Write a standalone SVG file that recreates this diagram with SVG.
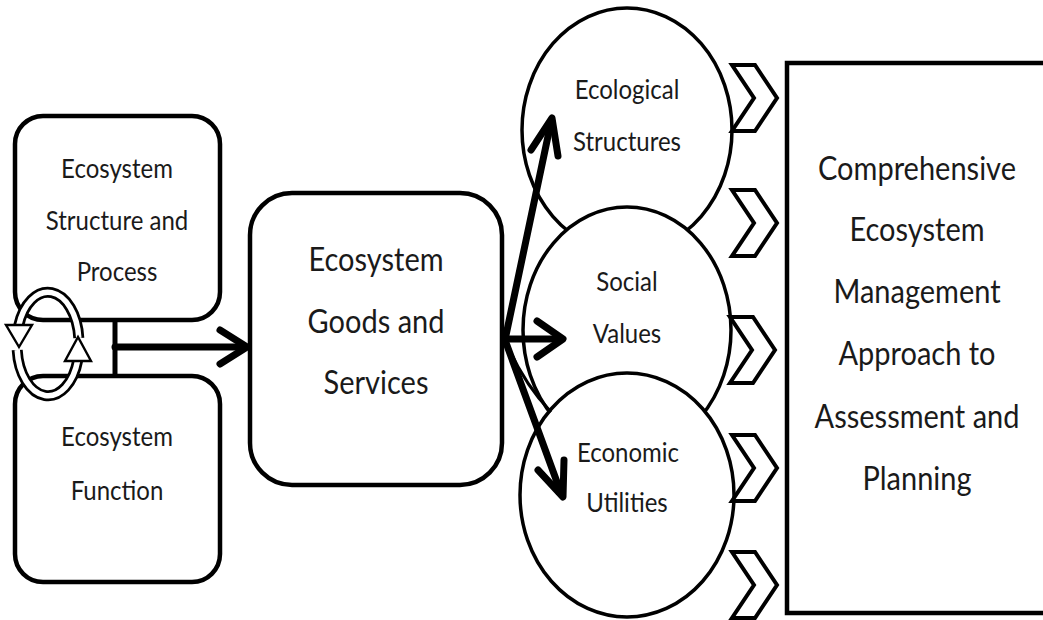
<svg xmlns="http://www.w3.org/2000/svg" width="1043" height="620" viewBox="0 0 1043 620">
  <defs>
    <style>
      .box { fill: #fff; stroke: #000; stroke-width: 4.5; }
      .oval { fill: #fff; stroke: #000; stroke-width: 3.5; }
      .chev { fill: #fff; stroke: #000; stroke-width: 4; stroke-linejoin: miter; }
      .lbl { font-family: Lato, "Open Sans", "Liberation Sans", sans-serif; fill: #1a1a1a; text-anchor: middle; }
      .s24 { font-size: 24px; }
      .s23 { font-size: 24px; }
      .s30 { font-size: 29px; }
      .shaft { fill: none; stroke: #000; stroke-width: 7; stroke-linecap: round; stroke-linejoin: round; }
      .band-o { fill: none; stroke: #000; stroke-width: 11; }
      .band-i { fill: none; stroke: #fff; stroke-width: 5.5; }
      .cyc-head { fill: #fff; stroke: #000; stroke-width: 2.4; stroke-linejoin: miter; }
    </style>
    <path id="chevron" class="chev" d="M732,-33 H755 L777,0 L755,33 H732 L754,0 Z"/>
  </defs>

  <rect width="1043" height="620" fill="#fff"/>

  <!-- Outcome box (runs off the right edge); labels are drawn slightly tall -->
  <g id="management">
    <rect class="box" x="787" y="63" width="290" height="550"/>
    <text class="lbl s30" transform="translate(917,180) scale(1,1.15)">Comprehensive</text>
    <text class="lbl s30" transform="translate(917,241) scale(1,1.15)">Ecosystem</text>
    <text class="lbl s30" transform="translate(917,303) scale(1,1.15)">Management</text>
    <text class="lbl s30" transform="translate(917,365) scale(1,1.15)">Approach to</text>
    <text class="lbl s30" transform="translate(917,428) scale(1,1.15)">Assessment and</text>
    <text class="lbl s30" transform="translate(917,490) scale(1,1.15)">Planning</text>
  </g>

  <!-- Value circles, stacked top to bottom -->
  <g id="ecological">
    <ellipse class="oval" cx="627" cy="130" rx="105" ry="122"/>
    <text class="lbl s23" transform="translate(627,99) scale(1,1.15)">Ecological</text>
    <text class="lbl s23" transform="translate(627,151) scale(1,1.15)">Structures</text>
  </g>
  <g id="social">
    <ellipse class="oval" cx="627" cy="330" rx="104" ry="123"/>
    <text class="lbl s23" transform="translate(627,291) scale(1,1.15)">Social</text>
    <text class="lbl s23" transform="translate(627,343) scale(1,1.15)">Values</text>
  </g>
  <g id="economic">
    <ellipse class="oval" cx="627" cy="495" rx="107" ry="122"/>
    <text class="lbl s23" transform="translate(628,462) scale(1,1.15)">Economic</text>
    <text class="lbl s23" transform="translate(627,512) scale(1,1.15)">Utilities</text>
  </g>

  <!-- Source boxes -->
  <g id="structure">
    <rect class="box" x="15" y="116" width="205" height="204" rx="28"/>
    <text class="lbl s24" transform="translate(117,178) scale(1,1.15)">Ecosystem</text>
    <text class="lbl s24" transform="translate(117,230) scale(1,1.15)">Structure and</text>
    <text class="lbl s24" transform="translate(117,281) scale(1,1.15)">Process</text>
  </g>
  <g id="function">
    <rect class="box" x="15" y="376" width="205" height="206" rx="28"/>
    <text class="lbl s24" transform="translate(117,446) scale(1,1.15)">Ecosystem</text>
    <text class="lbl s24" transform="translate(117,500) scale(1,1.15)">Function</text>
  </g>
  <g id="goods">
    <rect class="box" x="250" y="193" width="252" height="292" rx="42"/>
    <text class="lbl s30" transform="translate(376,271) scale(1,1.15)">Ecosystem</text>
    <text class="lbl s30" transform="translate(376,333) scale(1,1.15)">Goods and</text>
    <text class="lbl s30" transform="translate(376,394) scale(1,1.15)">Services</text>
  </g>

  <g id="connectors">
    <!-- bar joining the two source boxes, then into goods and services -->
    <path d="M115,320 V376" fill="none" stroke="#000" stroke-width="5"/>
    <path class="shaft" d="M115,347 H243" stroke-width="8"/>
    <path class="shaft" d="M220,330 L247,347 L220,364" stroke-width="8"/>

    <!-- fan-out to the three circles -->
    <path class="shaft" d="M505,340 L551,122"/>
    <path class="shaft" d="M531,150 L552,118 L558,156"/>
    <path class="shaft" d="M505,339 H560"/>
    <path class="shaft" d="M537,321 L563,339 L537,357"/>
    <path class="shaft" d="M505,340 L561,493"/>
    <path class="shaft" d="M538,470 L563,497 L564,460"/>
    <path d="M509,349 Q526,386 551,412" fill="none" stroke="#000" stroke-width="3"/>

    <!-- chevrons into the outcome box -->
    <g id="chevrons">
      <use href="#chevron" transform="translate(0,98)"/>
      <use href="#chevron" transform="translate(0,223)"/>
      <use href="#chevron" transform="translate(-2,350)"/>
      <use href="#chevron" transform="translate(0,468)"/>
      <use href="#chevron" transform="translate(0,585)"/>
    </g>

    <!-- feedback cycle between structure and function -->
    <g id="cycle">
      <path class="band-o" d="M78.8,338 A31,50 0 0 0 18.6,326"/>
      <path class="band-i" d="M78.8,338 A31,50 0 0 0 18.6,326"/>
      <path class="band-o" d="M17.2,350 A31,50 0 0 0 77.8,360"/>
      <path class="band-i" d="M17.2,350 A31,50 0 0 0 77.8,360"/>
      <polygon class="cyc-head" points="6,325 32,325 19,347"/>
      <polygon class="cyc-head" points="65,361 91,361 78,337"/>
    </g>
  </g>
</svg>
